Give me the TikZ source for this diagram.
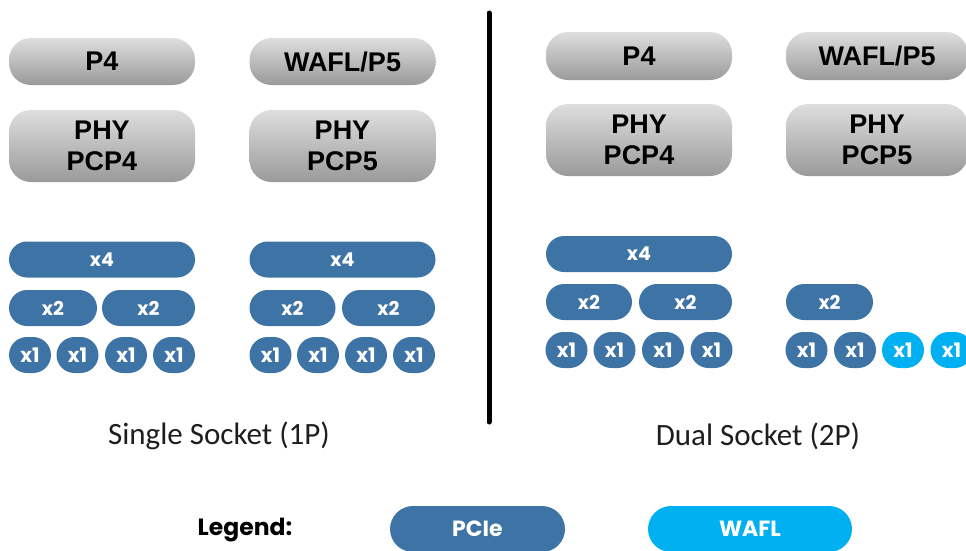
\documentclass[tikz,border=0pt]{standalone}
\usepackage{fontspec}
\setmainfont{Carlito}
\newfontfamily\boxfont{Liberation Sans}
\newfontfamily\lanefont{Poppins}

\definecolor{pcie}{HTML}{3E73A5}
\definecolor{wafl}{HTML}{00B0F0}
\definecolor{graytop}{HTML}{DEDEDE}
\definecolor{graybot}{HTML}{9A9A9A}
\definecolor{captext}{HTML}{1E1E1E}

\tikzset{
  graybox/.style={rectangle, rounded corners=22pt, draw=none,
    top color=graytop, bottom color=graybot, inner sep=0pt,
    align=center, text=black,
    font=\boxfont\bfseries\fontsize{27}{31}\selectfont},
  lane/.style={rectangle, rounded corners=18pt, draw=none, fill=pcie,
    inner sep=0pt, minimum height=36pt, text=white,
    font=\lanefont\bfseries\fontsize{19}{20}\selectfont},
  one/.style={lane, minimum width=42pt,
    font=\lanefont\bfseries\fontsize{20}{22}\selectfont},
  caption/.style={text=captext, font=\fontsize{31}{36}\selectfont},
  legendpill/.style={rectangle, rounded corners=23pt, draw=none,
    inner sep=0pt, minimum height=46pt, text=white,
    font=\lanefont\bfseries\fontsize{22}{24}\selectfont},
  divider/.style={line width=5pt, line cap=round, black}
}

\begin{document}
\begin{tikzpicture}[x=1pt, y=-1pt]
  \path[use as bounding box, clip] (0,0) rectangle (966,550);

  % ---------- single socket ----------
  \node[graybox, minimum width=186pt, minimum height=47pt] (sP4)   at (102,61.5) {P4};
  \node[graybox, minimum width=186pt, minimum height=47pt] (sP5)   at (342.5,61.5) {WAFL/P5};
  \node[graybox, minimum width=186pt, minimum height=72pt] (sPHY4) at (102,146) {PHY\\PCP4};
  \node[graybox, minimum width=186pt, minimum height=72pt] (sPHY5) at (342.5,146) {PHY\\PCP5};

  \node[lane, minimum width=186pt] (sa4)  at (102,259.5) {x4};
  \node[lane, minimum width=88pt]  (sa2a) at (53,308) {x2};
  \node[lane, minimum width=93pt]  (sa2b) at (148.5,308) {x2};
  \node[one] (sa1a) at (30,355) {x1};
  \node[one] (sa1b) at (77.5,355) {x1};
  \node[one] (sa1c) at (126,355) {x1};
  \node[one] (sa1d) at (174,355) {x1};

  \node[lane, minimum width=186pt] (sb4)  at (342.5,259.5) {x4};
  \node[lane, minimum width=86pt]  (sb2a) at (292.5,308) {x2};
  \node[lane, minimum width=93pt]  (sb2b) at (388.5,308) {x2};
  \node[one] (sb1a) at (270.5,355) {x1};
  \node[one] (sb1b) at (318,355) {x1};
  \node[one] (sb1c) at (366,355) {x1};
  \node[one] (sb1d) at (414,355) {x1};

  \node[caption] (single) at (219,436) {Single Socket (1P)};

  % ---------- divider ----------
  \coordinate (divtop) at (489,13);
  \coordinate (divbot) at (489,422);
  \draw[divider] (divtop) -- (divbot);

  % ---------- dual socket ----------
  \node[graybox, minimum width=186pt, minimum height=48pt] (dP4)   at (639,56) {P4};
  \node[graybox, minimum width=182pt, minimum height=48pt] (dP5)   at (877,56) {WAFL/P5};
  \node[graybox, minimum width=186pt, minimum height=72pt] (dPHY4) at (639,140) {PHY\\PCP4};
  \node[graybox, minimum width=182pt, minimum height=72pt] (dPHY5) at (877,140) {PHY\\PCP5};

  \node[lane, minimum width=186pt] (da4)  at (639,254) {x4};
  \node[lane, minimum width=86pt]  (da2a) at (589,302) {x2};
  \node[lane, minimum width=93pt]  (da2b) at (685.5,302) {x2};
  \node[one] (da1a) at (566.5,350) {x1};
  \node[one] (da1b) at (614.5,350) {x1};
  \node[one] (da1c) at (663,350) {x1};
  \node[one] (da1d) at (711.5,350) {x1};

  \node[lane, minimum width=87pt] (db2a) at (829.5,302) {x2};
  \node[one] (db1a) at (806.5,350) {x1};
  \node[one] (db1b) at (855,350) {x1};
  \node[one, fill=wafl] (db1c) at (903,350) {x1};
  \node[one, fill=wafl] (db1d) at (951.5,350) {x1};

  \node[caption] (dual) at (758,436) {Dual Socket (2P)};

  % ---------- legend ----------
  \node[text=black, font=\lanefont\bfseries\fontsize{23.5}{27}\selectfont] (legend) at (245,530) {Legend:};
  \node[legendpill, fill=pcie, minimum width=175pt] (legpcie) at (477.5,529) {PCIe};
  \node[legendpill, fill=wafl, minimum width=204pt] (legwafl) at (750,529) {WAFL};
\end{tikzpicture}
\end{document}
